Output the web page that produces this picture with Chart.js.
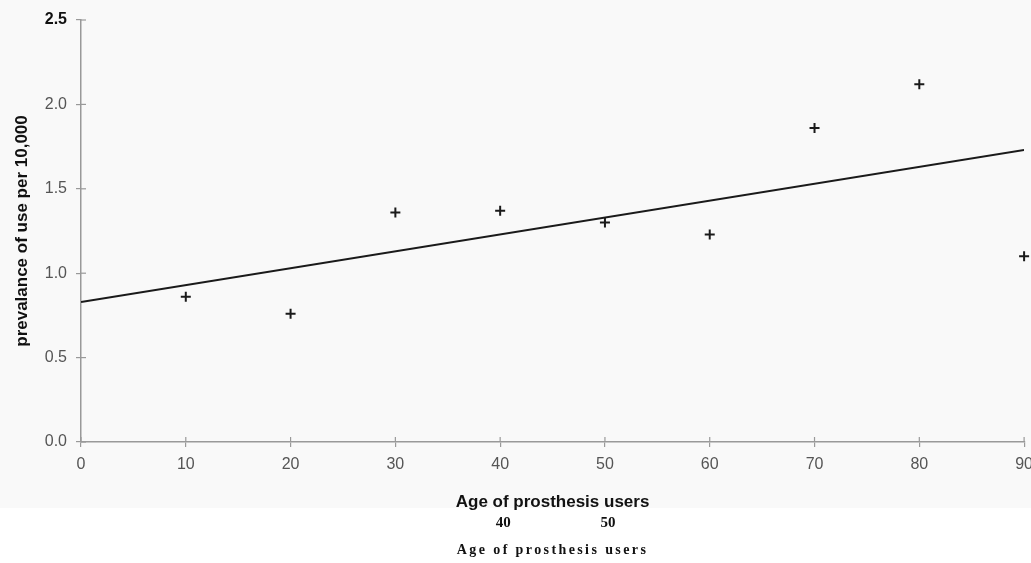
<!DOCTYPE html>
<html>
<head>
<meta charset="utf-8">
<script src="https://cdn.jsdelivr.net/npm/chart.js@4.4.1/dist/chart.umd.min.js"></script>
<style>
    html, body { margin: 0; padding: 0; background: #ffffff; overflow: hidden; }
    #wrap { width: 1031px; height: 563px; position: relative; overflow: hidden; }
</style>
</head>
<body>
<div id="wrap"><canvas id="prevChart" width="1041" height="563"></canvas></div>
<script>
// Age groups (x) and observed prevalence per 10,000 (y)
const ageGroups = [10, 20, 30, 40, 50, 60, 70, 80, 90];
const prevalence = [0.86, 0.76, 1.36, 1.37, 1.30, 1.23, 1.86, 2.12, 1.10];

// Fitted trend line end points
const trendAges = [0, 90];
const trendValues = [0.83, 1.73];

// Extra scanned labels under the chart
const extraTickAges = [40, 50];
const xTitle = 'Age of prosthesis users';
const yTitle = 'prevalance of use per 10,000';

const axisGray = '#999999';

// Background: scanned page is slightly grey above the bottom strip
const backgroundPlugin = {
    id: 'scanBackground',
    beforeDraw(chart) {
        const ctx = chart.ctx;
        ctx.save();
        ctx.fillStyle = '#ffffff';
        ctx.fillRect(0, 0, chart.width, chart.height);
        ctx.fillStyle = '#f9f9f9';
        ctx.fillRect(0, 0, chart.width, 508);
        ctx.restore();
    }
};

// Tick marks cross the axis lines, plus the serif caption below
const extrasPlugin = {
    id: 'extras',
    afterDraw(chart) {
        const ctx = chart.ctx;
        const x = chart.scales.x;
        const y = chart.scales.y;
        const area = chart.chartArea;
        ctx.save();
        ctx.strokeStyle = axisGray;
        ctx.lineWidth = 1.2;
        x.ticks.forEach(t => {
            const px = x.getPixelForValue(t.value);
            ctx.beginPath();
            ctx.moveTo(px, area.bottom);
            ctx.lineTo(px, area.bottom - 5);
            ctx.stroke();
        });
        y.ticks.forEach(t => {
            const py = y.getPixelForValue(t.value);
            ctx.beginPath();
            ctx.moveTo(area.left, py);
            ctx.lineTo(area.left + 5, py);
            ctx.stroke();
        });

        ctx.fillStyle = '#111111';
        ctx.textAlign = 'center';
        ctx.textBaseline = 'middle';
        ctx.font = 'bold 15px "Liberation Serif", serif';
        extraTickAges.forEach(a => {
            ctx.fillText(String(a), x.getPixelForValue(a) + 3, 523);
        });
        ctx.font = 'bold 14px "Liberation Serif", serif';
        ctx.letterSpacing = '2.4px';
        ctx.fillText(xTitle, (area.left + area.right) / 2, 550);
        ctx.restore();
    }
};

const ctx = document.getElementById('prevChart');

new Chart(ctx, {
    data: {
        datasets: [{
            type: 'scatter',
            label: 'Prevalence',
            data: ageGroups.map((a, i) => ({ x: a, y: prevalence[i] })),
            pointStyle: 'cross',
            pointRadius: 5,
            pointBorderWidth: 2,
            borderColor: '#1a1a1a',
            backgroundColor: '#1a1a1a',
            clip: false
        }, {
            type: 'line',
            label: 'Trend',
            data: trendAges.map((a, i) => ({ x: a, y: trendValues[i] })),
            borderColor: '#1a1a1a',
            borderWidth: 2,
            pointRadius: 0,
            fill: false
        }]
    },
    options: {
        responsive: false,
        animation: false,
        devicePixelRatio: 1,
        layout: { padding: { top: 20, right: 0, left: 0, bottom: 0 } },
        plugins: {
            legend: { display: false },
            tooltip: { enabled: false }
        },
        scales: {
            x: {
                type: 'linear',
                min: 0,
                max: 90,
                afterFit: (scale) => { scale.height = 121; },
                border: { color: axisGray, width: 1.5 },
                grid: { drawOnChartArea: false, drawTicks: true, tickLength: 5, color: axisGray, lineWidth: 1.2 },
                ticks: {
                    stepSize: 10,
                    padding: 8,
                    color: '#555555',
                    font: { family: 'Arial, "Liberation Sans", sans-serif', size: 16 }
                },
                title: {
                    display: true,
                    text: xTitle,
                    color: '#111111',
                    font: { family: 'Arial, "Liberation Sans", sans-serif', size: 17, weight: 'bold' },
                    padding: { top: 0, bottom: 50 }
                }
            },
            y: {
                min: 0,
                max: 2.5,
                afterFit: (scale) => { scale.width = 81; },
                border: { color: axisGray, width: 1.5 },
                grid: { drawOnChartArea: false, drawTicks: true, tickLength: 5, color: axisGray, lineWidth: 1.2 },
                ticks: {
                    stepSize: 0.5,
                    padding: 9,
                    callback: (v) => Number(v).toFixed(1),
                    color: (c) => c.tick && c.tick.value === 2.5 ? '#111111' : '#555555',
                    font: (c) => ({
                        family: 'Arial, "Liberation Sans", sans-serif',
                        size: 16,
                        weight: c.tick && c.tick.value === 2.5 ? 'bold' : 'normal'
                    })
                },
                title: {
                    display: true,
                    text: yTitle,
                    color: '#111111',
                    font: { family: 'Arial, "Liberation Sans", sans-serif', size: 17, weight: 'bold' },
                    padding: { top: 12, bottom: 0 }
                }
            }
        }
    },
    plugins: [backgroundPlugin, extrasPlugin]
});
</script>
</body>
</html>
